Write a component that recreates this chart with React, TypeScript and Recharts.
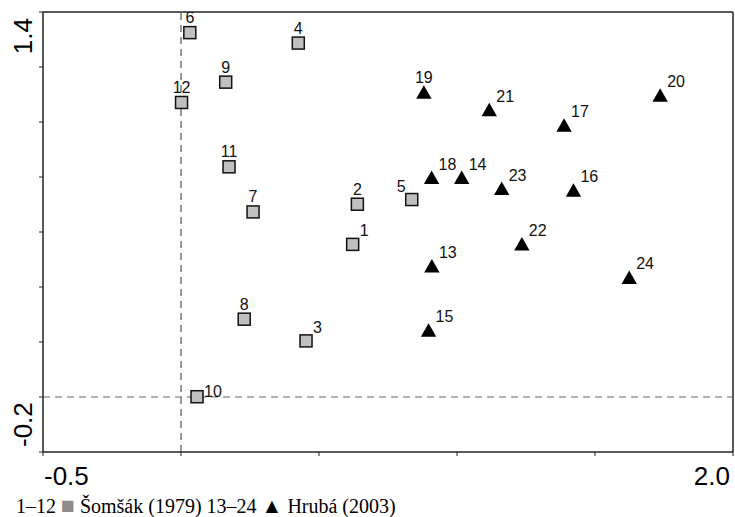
import React from "react";
import {
    ScatterChart,
    Scatter,
    XAxis,
    YAxis,
    ReferenceLine
} from "recharts";

// Šomšák (1979), sites 1–12
const SOMSAK_IDS = [1, 2, 3, 4, 5, 6, 7, 8, 9, 10, 11, 12];
const SOMSAK_X = [0.622, 0.639, 0.453, 0.425, 0.836, 0.032, 0.261, 0.229, 0.162, 0.058, 0.174, 0.002];
const SOMSAK_Y = [0.555, 0.701, 0.204, 1.287, 0.718, 1.325, 0.673, 0.283, 1.145, 0.001, 0.837, 1.071];

// Hrubá (2003), sites 13–24
const HRUBA_IDS = [13, 14, 15, 16, 17, 18, 19, 20, 21, 22, 23, 24];
const HRUBA_X = [0.909, 1.017, 0.897, 1.422, 1.388, 0.908, 0.880, 1.736, 1.117, 1.235, 1.162, 1.624];
const HRUBA_Y = [0.476, 0.798, 0.243, 0.752, 0.988, 0.798, 1.108, 1.097, 1.045, 0.556, 0.758, 0.435];

const X_TICKS = [-0.5, 0, 0.5, 1.0, 1.5, 2.0];
const Y_TICKS = [-0.2, 0, 0.2, 0.4, 0.6, 0.8, 1.0, 1.2, 1.4];

// where each point's number sits relative to its marker
const LABEL_SIDE: Record<number, string> = {
    1: "topRight", 3: "topRight", 5: "topLeft", 10: "right", 19: "top"
};

const FONT = "'Liberation Sans', Arial, sans-serif";

const somsakData = SOMSAK_IDS.map((id, i) => ({ id, x: SOMSAK_X[i], y: SOMSAK_Y[i] }));
const hrubaData = HRUBA_IDS.map((id, i) => ({ id, x: HRUBA_X[i], y: HRUBA_Y[i] }));

const PointLabel = ({ cx, cy, id, side }: any) => {
    let x = cx;
    let y = cy - 9.5;
    let anchor = "middle";
    if (side === "topRight") { x = cx + 7; y = cy - 8; anchor = "start"; }
    if (side === "topLeft") { x = cx - 6; y = cy - 8; anchor = "end"; }
    if (side === "right") { x = cx + 7; y = cy; anchor = "start"; }
    return (
        <text x={x} y={y} textAnchor={anchor} style={{ fontSize: 16, fontFamily: FONT }} fill="#111">
            {id}
        </text>
    );
};

const SquareShape = (props: any) => {
    const { cx, cy, payload } = props;
    return (
        <g>
            <rect x={cx - 6} y={cy - 6} width={12} height={12} fill="#c0c0c0" stroke="#111" strokeWidth={1.5} />
            <PointLabel cx={cx} cy={cy} id={payload.id} side={LABEL_SIDE[payload.id] || "top"} />
        </g>
    );
};

const TriangleShape = (props: any) => {
    const { cx, cy, payload } = props;
    const pts = `${cx},${cy - 7} ${cx - 7.7},${cy + 6.5} ${cx + 7.7},${cy + 6.5}`;
    return (
        <g>
            <polygon points={pts} fill="#000" />
            <PointLabel cx={cx} cy={cy} id={payload.id} side={LABEL_SIDE[payload.id] || "topRight"} />
        </g>
    );
};

const XTick = (props: any) => {
    const { x, y, payload } = props;
    const v = payload.value;
    if (v !== -0.5 && v !== 2) return null;
    return (
        <text x={v === 2 ? x - 1 : x + 1} y={y + 27} textAnchor={v === 2 ? "end" : "start"}
            style={{ fontSize: 26, fontFamily: FONT }} fill="#000">
            {v.toFixed(1)}
        </text>
    );
};

const YTick = (props: any) => {
    const { x, y, payload } = props;
    const v = payload.value;
    if (v !== -0.2 && v !== 1.4) return null;
    const tx = x - 5;
    const ty = v === 1.4 ? y + 6 : y - 5;
    return (
        <text x={tx} y={ty} transform={`rotate(-90, ${tx}, ${ty})`} textAnchor={v === 1.4 ? "end" : "start"}
            style={{ fontSize: 26, fontFamily: FONT }} fill="#000">
            {v.toFixed(1)}
        </text>
    );
};

const App = () => {
    return (
        <div style={{ position: "absolute", left: 0, top: 0, width: 735, height: 517, background: "#fff" }}>
            <ScatterChart width={735} height={517} margin={{ top: 12, right: 2, bottom: 35, left: 0 }}>
                <XAxis type="number" dataKey="x" domain={[-0.5, 2]} ticks={X_TICKS} allowDataOverflow
                    height={30} tick={<XTick />} tickSize={4}
                    axisLine={{ stroke: "#222", strokeWidth: 1.5 }} tickLine={{ stroke: "#222" }} />
                <YAxis type="number" dataKey="y" domain={[-0.2, 1.4]} ticks={Y_TICKS} allowDataOverflow
                    width={43} tick={<YTick />} tickSize={4}
                    axisLine={{ stroke: "#222", strokeWidth: 1.5 }} tickLine={{ stroke: "#222" }} />
                <ReferenceLine y={1.4} stroke="#222" strokeWidth={1.5} />
                <ReferenceLine x={2} stroke="#222" strokeWidth={1.5} />
                <ReferenceLine x={0} stroke="#555" strokeWidth={1.2} strokeDasharray="7 5" />
                <ReferenceLine y={0} stroke="#666" strokeWidth={1.2} strokeDasharray="7 5" />
                <Scatter data={somsakData} shape={<SquareShape />} isAnimationActive={false} />
                <Scatter data={hrubaData} shape={<TriangleShape />} isAnimationActive={false} />
            </ScatterChart>
            <svg width={735} height={517} style={{ position: "absolute", left: 0, top: 0, pointerEvents: "none" }}>
                <text x={16} y={513} style={{ fontSize: 20, fontFamily: "'Liberation Serif', 'Times New Roman', serif" }} fill="#000">
                    1–12 <tspan fill="#8c8c8c" style={{ fontSize: 23 }}>■</tspan> Šomšák (1979) 13–24 <tspan fill="#000" style={{ fontSize: 21 }}>▲</tspan> Hrubá (2003)
                </text>
            </svg>
        </div>
    );
};

export default App;
